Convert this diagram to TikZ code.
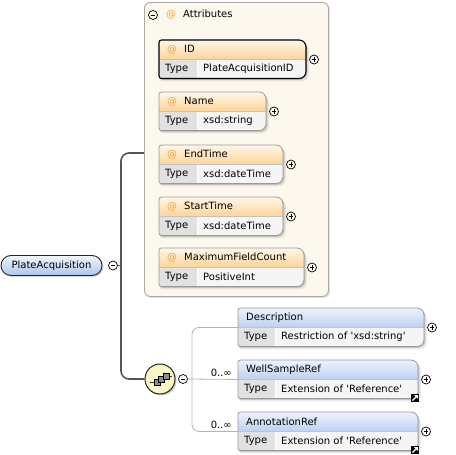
\documentclass[tikz,border=0pt]{standalone}
\usepackage{fontspec}
\setmainfont{DejaVu Sans}[Ligatures=TeXOff]
\usetikzlibrary{calc}
\definecolor{panelfill}{HTML}{FDF8EE}
\definecolor{panelline}{HTML}{A8A8A8}
\definecolor{atop}{HTML}{FFF7EA}
\definecolor{abot}{HTML}{FDD496}
\definecolor{etop}{HTML}{EEF3FD}
\definecolor{ebot}{HTML}{BDD0F1}
\definecolor{typec}{HTML}{E1E1E1}
\definecolor{valc}{HTML}{F5F5F5}
\definecolor{boxline}{HTML}{9A9A9A}
\definecolor{atc}{HTML}{F2A33A}
\definecolor{connc}{HTML}{555555}
\definecolor{gconnc}{HTML}{B4B4B4}
\definecolor{seqfill}{HTML}{FCF6C4}
\definecolor{patop}{HTML}{F2F6FE}
\definecolor{pabot}{HTML}{AEC4EC}
\def\bshape#1#2#3#4{(#1,{(#2+#4)/2}) [rounded corners=2.5pt] -- (#1,#2) [rounded corners=7pt] -- (#3,#2) -- (#3,#4) [rounded corners=2.5pt] -- (#1,#4) -- cycle}
\newcommand\atx{{\color{atc}@}\hspace{7pt}}
\newcommand\xbox[8][]{%
\begin{scope}[#1]
\pgfmathsetmacro\xa{#3}\pgfmathsetmacro\xb{#5}\pgfmathsetmacro\ya{#4}%
\pgfmathsetmacro\ys{#4+19.5}\pgfmathsetmacro\yb{#4+38.5}%
\fill[black,opacity=0.08] \bshape{\xa+1}{\ya+2.8}{\xb+2.8}{\yb+2.8};
\fill[black,opacity=0.16] \bshape{\xa+0.5}{\ya+1.3}{\xb+1.3}{\yb+1.3};
\begin{scope}
\clip \bshape{\xa}{\ya}{\xb}{\yb};
\path[hdr] (\xa,\ya) rectangle (\xb,\ys);
\fill[typec] (\xa,\ys) rectangle (#6,\yb);
\fill[valc] (#6,\ys) rectangle (\xb,\yb);
\draw[white,line width=0.8pt] (#6,\ys) -- (#6,\yb);
\draw[boxline!60,line width=0.5pt] (\xa,\ys) -- (\xb,\ys);
\end{scope}
\draw[boxborder] \bshape{\xa}{\ya}{\xb}{\yb};
\node[inner sep=0,minimum width={(\xb-\xa)*1pt},minimum height=38.5pt,anchor=north west] (#2) at (\xa,\ya) {};
\node[anchor=west,inner sep=0] (#2-title) at (\xa+8,{(\ya+\ys)/2}) {#7};
\node[anchor=west,inner sep=0] (#2-tl) at (\xa+6,{(\ys+\yb)/2}) {Type};
\node[anchor=west,inner sep=0] (#2-type) at (#6+6,{(\ys+\yb)/2}) {#8};
\node[plus] (#2-plus) at (\xb+8,\ys) {};
\end{scope}}
\begin{document}
\begin{tikzpicture}[x=1pt,y=-1pt,font=\fontsize{10}{12}\selectfont,
  attr/.style={hdr/.style={top color=atop,bottom color=abot}},
  elem/.style={hdr/.style={top color=etop,bottom color=ebot}},
  boxborder/.style={draw=boxline,line width=0.8pt},
  sel/.style={boxborder/.style={draw=black,line width=1.1pt}},
  pm/.style={circle,draw=black,line width=0.7pt,minimum size=9pt,inner sep=0pt},
  plus/.style={pm,path picture={
    \draw[line width=0.7pt] ([xshift=-2.3pt]path picture bounding box.center) -- ([xshift=2.3pt]path picture bounding box.center)
      ([yshift=-2.3pt]path picture bounding box.center) -- ([yshift=2.3pt]path picture bounding box.center);}},
  minus/.style={pm,path picture={
    \draw[line width=0.7pt] ([xshift=-2.3pt]path picture bounding box.center) -- ([xshift=2.3pt]path picture bounding box.center);}},
  refarrow/.style={fill=black,minimum size=8pt,inner sep=0pt,path picture={
    \draw[white,line width=1.1pt] ([shift={(-2.6pt,-2.6pt)}]path picture bounding box.center) -- ([shift={(1.5pt,1.5pt)}]path picture bounding box.center);
    \fill[white] ([shift={(3pt,3pt)}]path picture bounding box.center) -- ([shift={(-1pt,3pt)}]path picture bounding box.center) -- ([shift={(3pt,-1pt)}]path picture bounding box.center) -- cycle;}},
  conn/.style={draw=connc,line width=1.6pt},
  gconn/.style={draw=gconnc,line width=0.8pt},
  mult/.style={anchor=south east,inner sep=0pt}]
\useasboundingbox (0,0) rectangle (456,455);
% attributes panel
\fill[black,opacity=0.10,rounded corners=6pt] (145.5,3.5) rectangle (330,298);
\node[draw=panelline,fill=panelfill,line width=0.9pt,rounded corners=6pt,minimum width=184pt,minimum height=294pt,anchor=north west,inner sep=0] (attrs) at (144,2) {};
\node[minus] (attrs-minus) at (153,15) {};
\node[anchor=west,inner sep=0] (attrs-title) at (166,15) {\atx Attributes};
\shade[left color=panelfill,middle color=black!28,right color=panelfill] (147,28.3) rectangle (292,29.8);
\xbox[attr,sel]{ID}{159}{40}{306}{197}{\atx ID}{PlateAcquisitionID}
\xbox[attr]{Name}{159}{92}{266}{197}{\atx Name}{xsd:string}
\xbox[attr]{EndTime}{159}{145}{283}{197}{\atx EndTime}{xsd:dateTime}
\xbox[attr]{StartTime}{159}{197}{283}{197}{\atx StartTime}{xsd:dateTime}
\xbox[attr]{MaxFC}{159}{248}{304}{197}{\atx MaximumFieldCount}{PositiveInt}
% root element
\fill[black,opacity=0.16,rounded corners=10pt] (2.5,256.5) rectangle (103.5,277);
\node[draw=black!85,line width=0.9pt,rounded corners=10pt,minimum width=101pt,minimum height=20pt,inner sep=0pt,top color=patop,bottom color=pabot] (pa) at (51.5,265.5) {PlateAcquisition};
\node[minus] (pa-minus) at (113,265.5) {};
% sequence compositor
\fill[black,opacity=0.18] (161.5,380.5) circle (15pt);
\node[circle,draw=black!85,line width=1pt,fill=seqfill,minimum size=30pt,inner sep=0pt] (seq) at (160,379) {};
\begin{scope}[shift={(seq.center)},line width=0.6pt]
  \draw[black!80] (-10,3) -- (-6,3) (9,-3) -- (12,-3);
  \filldraw[fill=black!45,draw=black] (-6,0) rectangle (0,6);
  \filldraw[fill=black!45,draw=black] (-2,-3) rectangle (4,3);
  \filldraw[fill=black!45,draw=black] (3,-6) rectangle (9,0);
\end{scope}
\node[minus] (seq-minus) at (183,379) {};
% child elements
\xbox[elem]{Description}{238}{308}{424}{275}{Description}{Restriction of 'xsd:string'}
\xbox[elem]{WellSampleRef}{238}{360}{418}{275}{WellSampleRef}{Extension of 'Reference'}
\xbox[elem]{AnnotationRef}{238}{412}{418}{275}{AnnotationRef}{Extension of 'Reference'}
\node[refarrow] (wsr-ref) at (415,398) {};
\node[refarrow] (ann-ref) at (415,450) {};
% connectors
\coordinate (j1) at (121,265.5);
\coordinate (attrjoin) at (144,153);
\draw[conn] (pa-minus.east) -- (j1);
\draw[conn,rounded corners=8pt] (attrjoin) -| (j1) |- (seq.west);
\coordinate (sj) at (192,379);
\draw[gconn] (seq-minus.east) -- (WellSampleRef.west);
\draw[gconn,rounded corners=7pt] (Description.west) -| (sj) |- (AnnotationRef.west);
\node[mult] (m1) at (232,376.5) {0..∞};
\node[mult] (m2) at (232,428.5) {0..∞};
\end{tikzpicture}
\end{document}
